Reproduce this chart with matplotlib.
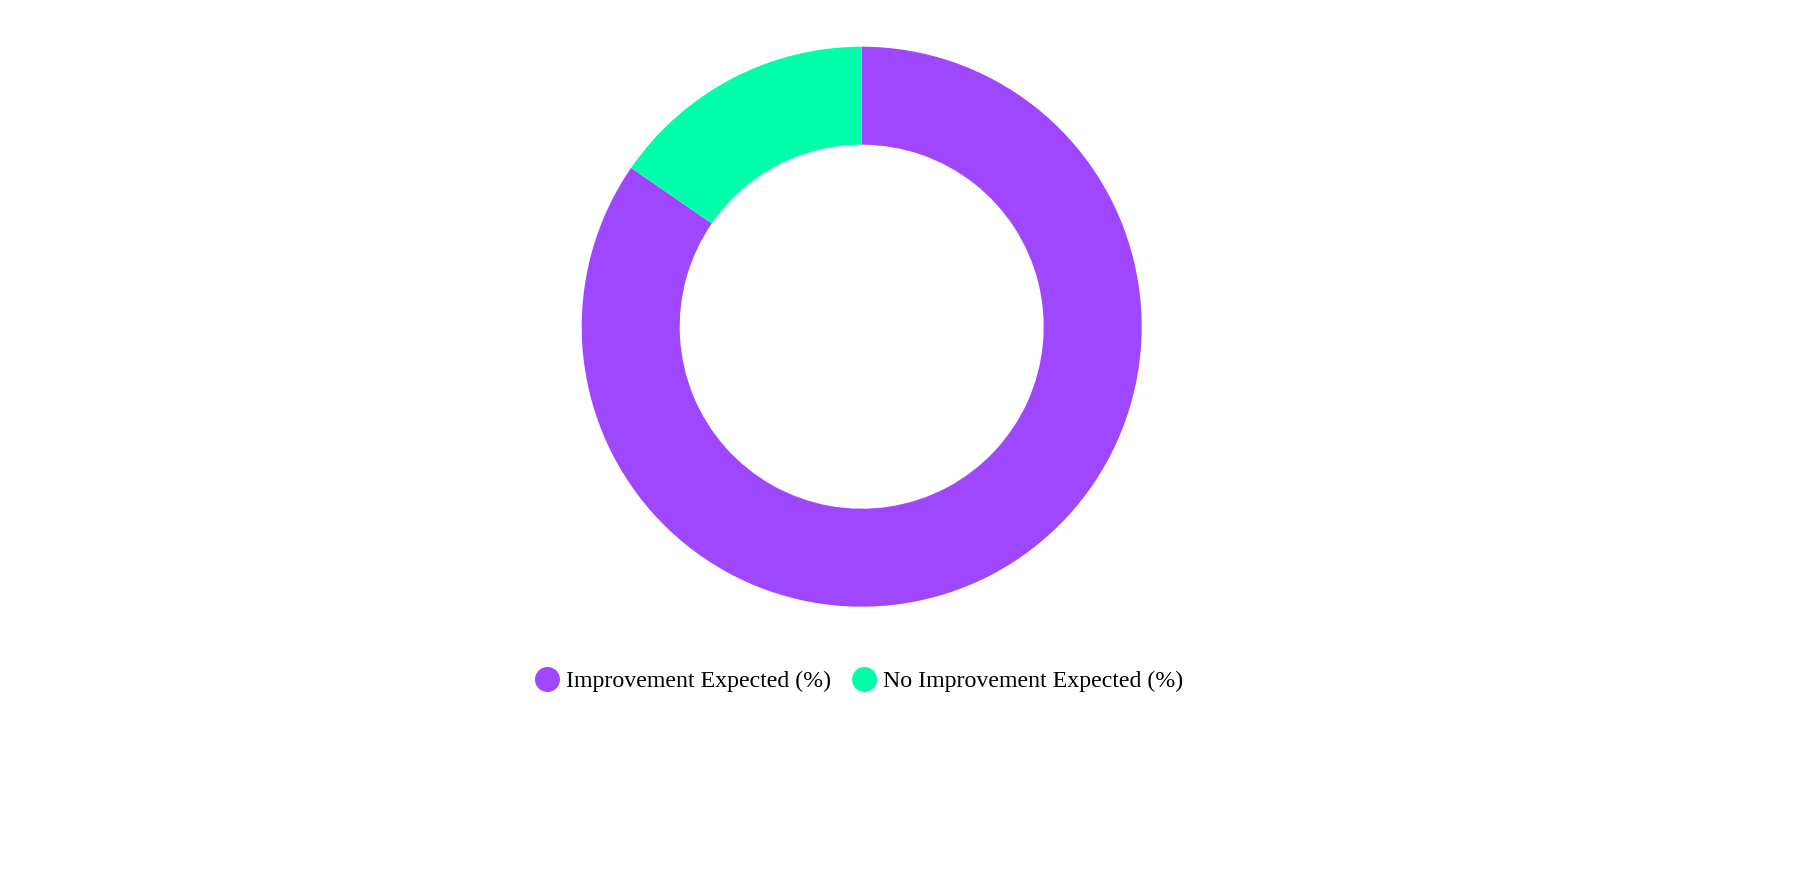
import matplotlib.pyplot as plt
from matplotlib.lines import Line2D

# donut data
labels = ["Improvement Expected (%)", "No Improvement Expected (%)"]
values = [84.6, 15.4]
colors = ["#9f47ff", "#00ffaa"]

plt.rcParams['font.family'] = ['Liberation Serif', 'DejaVu Serif']

fig = plt.figure(figsize=(18, 8.8), dpi=100)
# square axes box, 560 px each side
ax = fig.add_axes([581.7/1800, 1 - 606.7/880, 560/1800, 560/880])
ax.pie(values, colors=colors, startangle=90, counterclock=False, radius=1,
       wedgeprops=dict(width=0.35, edgecolor='none', linewidth=0))
ax.set_xlim(-1, 1)
ax.set_ylim(-1, 1)
ax.axis('off')

handles = [Line2D([], [], marker='o', linestyle='none', markersize=17,
                  markerfacecolor=c, markeredgecolor=c) for c in colors]
fig.legend(handles, labels, loc='center', bbox_to_anchor=(859/1800, 1 - 681/880),
           ncol=2, frameon=False, fontsize=17.2, handlelength=1.0,
           handletextpad=0.29, columnspacing=0.87, borderpad=0)

fig.savefig("out.png", dpi=100, facecolor='white')
